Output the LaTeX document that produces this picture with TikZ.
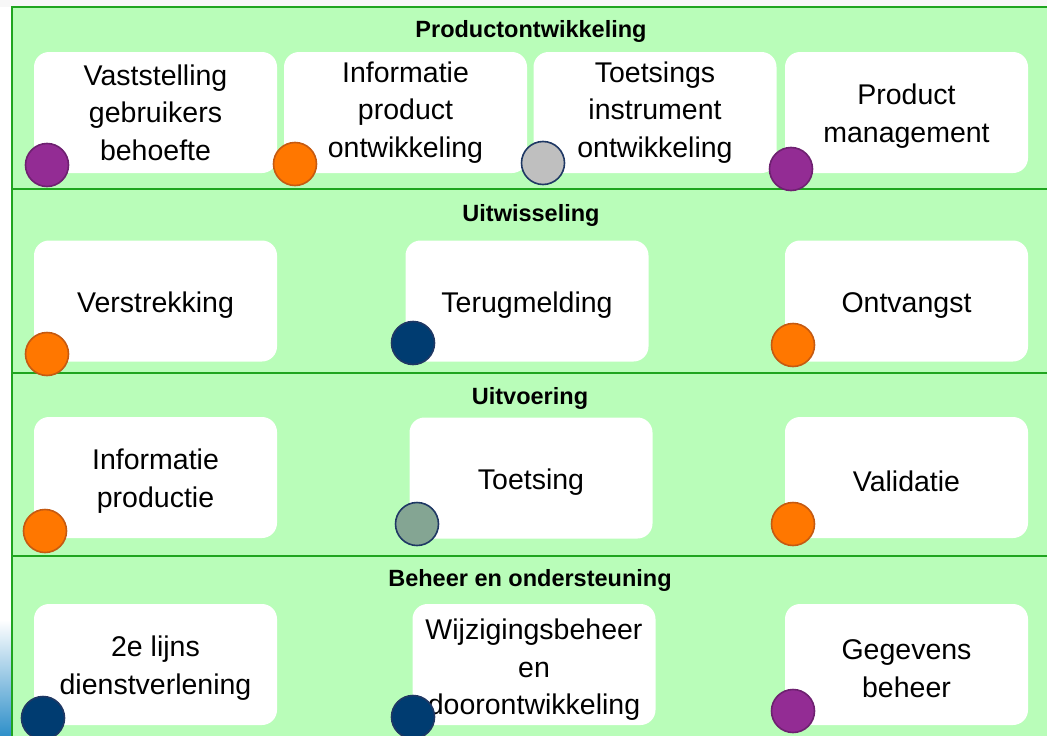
\documentclass[tikz,border=0pt]{standalone}
\usepackage{fontspec}
\setmainfont{Liberation Sans}
\usepackage{tikz}
\usetikzlibrary{backgrounds}

\definecolor{bandgreen}{HTML}{B9FDB9}
\definecolor{linegreen}{HTML}{1FA51F}
\definecolor{dotpurple}{HTML}{932C94}
\definecolor{dotpurpleb}{HTML}{6E2170}
\definecolor{dotorange}{HTML}{FF7700}
\definecolor{dotorangeb}{HTML}{C55A11}
\definecolor{dotgray}{HTML}{BFBFBF}
\definecolor{dotnavy}{HTML}{003C71}
\definecolor{dotnavyb}{HTML}{1F3864}
\definecolor{dotsage}{HTML}{84A593}
\definecolor{edgeblue}{HTML}{2E8FC9}

\newcommand{\lowstrut}{\rule{0pt}{28pt}}

\tikzset{
	proc/.style={rectangle, rounded corners=15pt, fill=white, draw=none,
		minimum width=243pt, minimum height=121pt, align=center,
		font=\fontsize{28.5}{37.5}\selectfont},
	band title/.style={font=\bfseries\fontsize{23.5}{26}\selectfont},
	dot/.style={circle, minimum size=43pt, inner sep=0pt, line width=1.6pt},
	purpledot/.style={dot, fill=dotpurple, draw=dotpurpleb},
	orangedot/.style={dot, fill=dotorange, draw=dotorangeb},
	graydot/.style={dot, fill=dotgray, draw=dotnavyb},
	navydot/.style={dot, fill=dotnavy, draw=dotnavyb},
	sagedot/.style={dot, fill=dotsage, draw=dotnavyb},
	divider/.style={draw=linegreen, line width=2pt}
}

\begin{document}
\begin{tikzpicture}[x=1pt, y=-1pt]
\useasboundingbox (0,0) rectangle (1047,736);
\fill[white!94!gray] (0,0) rectangle (1047,7);
\shade[top color=white, bottom color=edgeblue] (0,620) rectangle (12,736);
\fill[bandgreen] (12,7) rectangle (1047,736);
\draw[divider] (1047,7) -- (12,7) -- (12,736);
\foreach \y in {189,373,556}
	\draw[divider] (12,\y) -- (1047,\y);

% productontwikkeling
\node[band title] (t1) at (531,31) {Productontwikkeling};
\node[proc] (vast) at (155.5,112.5) {Vaststelling\\gebruikers\\behoefte};
\node[proc] (info) at (405.5,112.5) {Informatie\\product\\ontwikkeling};
\node[proc] (toets) at (655,112.5) {Toetsings\\instrument\\ontwikkeling};
\node[proc] (prod) at (906.5,112.5) {\lowstrut Product\\management};
\node[purpledot] (d11) at (47,165) {};
\node[orangedot] (d12) at (295,164) {};
\node[graydot] (d13) at (543,163) {};
\node[purpledot] (d14) at (791,169) {};

% uitwisseling
\node[band title] (t2) at (531,215) {Uitwisseling};
\node[proc] (verstr) at (155.5,301) {\lowstrut Verstrekking};
\node[proc] (terug) at (527,301) {\lowstrut Terugmelding};
\node[proc] (ontv) at (906.5,301) {\lowstrut Ontvangst};
\node[orangedot] (d21) at (47,354) {};
\node[navydot] (d22) at (413,343) {};
\node[orangedot] (d23) at (793,345) {};

% uitvoering
\node[band title] (t3) at (530,398) {Uitvoering};
\node[proc] (infop) at (155.5,477.5) {\lowstrut Informatie\\productie};
\node[proc] (toetsing) at (531,478) {\lowstrut Toetsing};
\node[proc] (valid) at (906.5,477.5) {\lowstrut Validatie};
\node[orangedot] (d31) at (45,531) {};
\node[sagedot] (d32) at (417,524) {};
\node[orangedot] (d33) at (793,524) {};

% beheer en ondersteuning
\node[band title] (t4) at (530,580) {Beheer en ondersteuning};
\node[proc] (lijn) at (155.5,664.5) {\lowstrut 2e lijns\\dienstverlening};
\node[proc] (wijz) at (534,664.5) {\rule{0pt}{31pt}Wijzigingsbeheer\\en\\doorontwikkeling};
\node[proc] (gegev) at (906.5,664.5) {\lowstrut Gegevens\\beheer};
\node[navydot] (d41) at (43,718) {};
\node[navydot] (d42) at (413,717) {};
\node[purpledot] (d43) at (793,711) {};
\end{tikzpicture}
\end{document}
